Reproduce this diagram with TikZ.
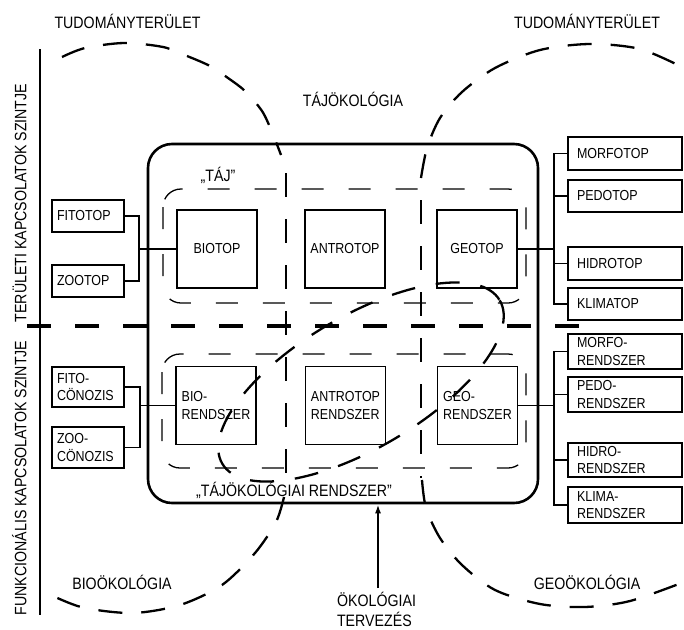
\documentclass[tikz,border=0pt]{standalone}
\usepackage{fontspec}
\setmainfont{Liberation Sans}[FakeStretch=0.86]
\usetikzlibrary{arrows.meta}

\begin{document}
\begin{tikzpicture}[x=1pt, y=-1pt,
  lbl/.style={font=\fontsize{16.5}{20}\selectfont, inner sep=0pt, text height=11.8pt, text depth=0pt},
  box/.style={draw, line width=1.8pt, font=\fontsize{14.5}{17.5}\selectfont, inner sep=0pt, minimum width=80pt, minimum height=78pt, align=left},
  sidebox/.style={draw, line width=1.8pt, font=\fontsize{14.5}{17.5}\selectfont, inner ysep=0pt, align=left},
  leftbox/.style={sidebox, inner xsep=5pt, text width=62pt},
  rightbox/.style={sidebox, inner xsep=9pt, text width=96pt},
  conn/.style={line width=1.3pt},
  eco/.style={line width=2.3pt, dash pattern=on 24pt off 19pt},
  tajdash/.style={line width=1.3pt, dash pattern=on 22pt off 25pt, rounded corners=18pt},
  sepdash/.style={line width=2pt, dash pattern=on 24pt off 22pt}
]
  \useasboundingbox (0,0) rectangle (684,629);

  % Levels
  \draw[line width=2.8pt] (40,49) -- (40,615);
  \node[lbl, rotate=90] (teruleti) at (20.5,203) {TERÜLETI KAPCSOLATOK SZINTJE};
  \node[lbl, rotate=90] (funkc) at (20.5,478) {FUNKCIONÁLIS KAPCSOLATOK SZINTJE};

  % Landscape ecology system
  \node[draw, line width=2.6pt, rounded corners=24pt, minimum width=390pt, minimum height=359pt] (tajrendszer) at (343,323.5) {};
  \draw[tajdash] (163,189) rectangle (526,303);
  \draw[tajdash] (162,354) rectangle (526,468);
  \draw[sepdash] (286,173) -- (286,478);
  \draw[sepdash] (421,200) -- (421,478);

  % Sciences
  \draw[eco] plot[smooth] coordinates {(62,57) (85,48) (124,43) (163,47) (187,56) (210,66) (228,78) (245,91) (262,111) (272,132) (281,155)};
  \draw[eco] plot[smooth] coordinates {(284,497) (276,522) (255,553) (222,585) (180,605) (133,613) (85,608) (55,597) (41,590)};
  \draw[eco] plot[smooth] coordinates {(421,178) (427,148) (440,118) (462,92) (495,68) (540,50) (590,44) (640,49) (684,68)};
  \draw[eco] plot[smooth] coordinates {(422,480) (426,508) (440,538) (462,565) (495,590) (540,604) (585,607) (630,601) (684,582)};
  \draw[eco, dash pattern=on 24pt off 21pt, rotate around={30.5:(361,382)}] (361,382) ellipse [x radius=161, y radius=66];

  % Separator
  \draw[line width=4pt, dash pattern=on 24pt off 24pt] (27,326) -- (579,326);

  % Labels
  \node[lbl] (tudbal) at (127.5,23) {TUDOMÁNYTERÜLET};
  \node[lbl] (tudjobb) at (587,23) {TUDOMÁNYTERÜLET};
  \node[lbl] (tajokologia) at (353,101) {TÁJÖKOLÓGIA};
  \node[lbl] (tajlbl) at (218,175.5) {„TÁJ”};
  \node[lbl] (tajrendlbl) at (294,491) {„TÁJÖKOLÓGIAI RENDSZER”};
  \node[lbl] (biookologia) at (122,584) {BIOÖKOLÓGIA};
  \node[lbl] (geookologia) at (587,584) {GEOÖKOLÓGIA};
  \node[font=\fontsize{16.5}{20}\selectfont, inner sep=0pt, align=left] (tervezes) at (376.5,609.5) {ÖKOLÓGIAI\\TERVEZÉS};

  % Planning arrow
  \coordinate (tervnyil) at (378,588);
  \draw[line width=1.8pt, -{Latex[length=9pt,width=6pt]}] (tervnyil) -- (tervnyil |- tajrendszer.south);

  % Inner boxes
  \node[box] (biotop) at (217,249) {BIOTOP};
  \node[box] (antrotop) at (345,249) {ANTROTOP};
  \node[box] (geotop) at (477,249) {GEOTOP};
  \node[box] (biorendszer) at (216,405.5) {BIO-\\RENDSZER};
  \node[box] (antrorendszer) at (345.5,405.5) {ANTROTOP\\RENDSZER};
  \node[box] (georendszer) at (477.5,405.5) {GEO-\\RENDSZER};

  % Left boxes
  \node[leftbox, minimum height=32pt] (fitotop) at (88,216) {FITOTOP};
  \node[leftbox, minimum height=32pt] (zootop) at (88,281) {ZOOTOP};
  \node[leftbox, minimum height=40pt] (fitoconozis) at (88,387) {FITO-\\CÖNOZIS};
  \node[leftbox, minimum height=41pt] (zooconozis) at (88,447.5) {ZOO-\\CÖNOZIS};

  % Right boxes
  \node[rightbox, minimum height=33pt] (morfotop) at (625,153.5) {MORFOTOP};
  \node[rightbox, minimum height=32pt] (pedotop) at (625,196) {PEDOTOP};
  \node[rightbox, minimum height=33pt] (hidrotop) at (625,263.5) {HIDROTOP};
  \node[rightbox, minimum height=32pt] (klimatop) at (625,304) {KLIMATOP};
  \node[rightbox, minimum height=35pt] (morforendszer) at (625,351.5) {MORFO-\\RENDSZER};
  \node[rightbox, minimum height=35pt] (pedorendszer) at (625,394.5) {PEDO-\\RENDSZER};
  \node[rightbox, minimum height=34pt] (hidrorendszer) at (625,460) {HIDRO-\\RENDSZER};
  \node[rightbox, minimum height=36pt] (klimarendszer) at (625,505) {KLIMA-\\RENDSZER};

  % Connectors
  \coordinate (bioag) at (139,249);
  \coordinate (bioag2) at (140,405.5);
  \coordinate (geoag) at (554,249);
  \coordinate (geoag2) at (554,405.5);
  \draw[conn] (fitotop.east) -| (bioag) |- (zootop.east);
  \draw[conn] (bioag) -- (biotop.west);
  \draw[conn] (fitoconozis.east) -| (bioag2) |- (zooconozis.east);
  \draw[conn] (bioag2) -- (biorendszer.west);
  \draw[conn] (geotop.east) -- (geoag);
  \draw[conn] (georendszer.east) -- (geoag2);
  \foreach \n in {morfotop, pedotop, hidrotop, klimatop}
    \draw[conn] (geoag) |- (\n.west);
  \foreach \n in {morforendszer, pedorendszer, hidrorendszer, klimarendszer}
    \draw[conn] (geoag2) |- (\n.west);
\end{tikzpicture}
\end{document}
